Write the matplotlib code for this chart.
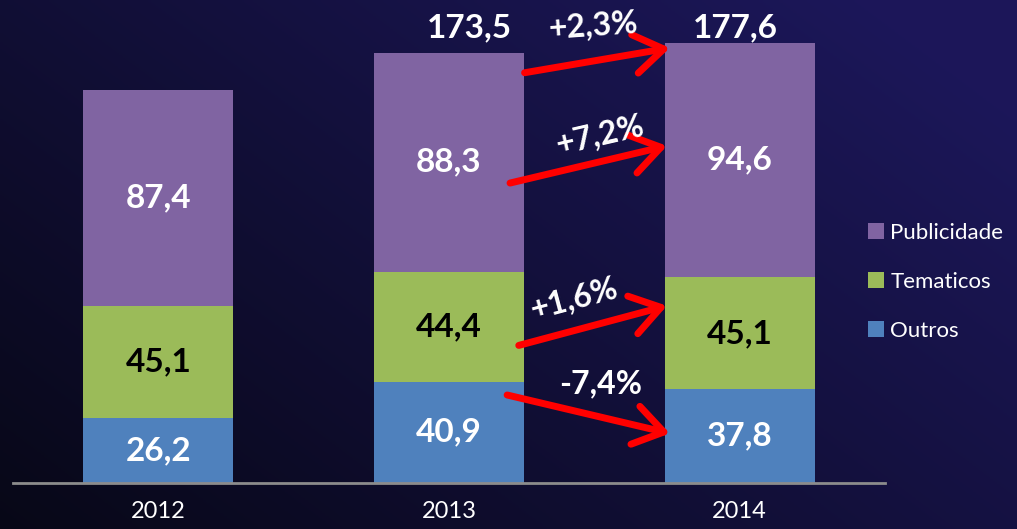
import numpy as np
import matplotlib
matplotlib.use("Agg")
import matplotlib.pyplot as plt

plt.rcParams['font.family'] = ['Lato', 'DejaVu Sans']

years = ["2012", "2013", "2014"]
outros = [26.2, 40.9, 37.8]
tematicos = [45.1, 44.4, 45.1]
publicidade = [87.4, 88.3, 94.6]
totals_lbl = {1: "173,5", 2: "177,6"}
# (label, start x, start y, end x, end y, text x, text y, rotation)
changes = [
    ("+2,3%", 1.26, 165.5, 1.76, 175.5, 1.495, 184.5, 4),
    ("+7,2%", 1.21, 121.0, 1.75, 136.0, 1.52, 140.5, 13),
    ("+1,6%", 1.24, 55.5, 1.75, 71.5, 1.43, 74.5, 15),
    ("-7,4%", 1.20, 35.5, 1.76, 20.0, 1.52, 40.0, 0),
]
colors = {"Publicidade": "#8064A2", "Tematicos": "#9BBB59", "Outros": "#4F81BD"}


def fmt(v):
    return f"{v:.1f}".replace(".", ",")


fig = plt.figure(figsize=(10.17, 5.29), dpi=100)

# background gradient
bg = fig.add_axes([0, 0, 1, 1], zorder=-10)
gx, gy = np.meshgrid(np.linspace(0, 1, 300), np.linspace(0, 1, 200))
t = np.clip(0.65 * gx + 0.45 * gy, 0, 1)
c0 = np.array([0.03, 0.03, 0.09])
c1 = np.array([0.11, 0.09, 0.35])
img = c0 + (c1 - c0) * t[..., None]
bg.imshow(img, origin="lower", aspect="auto", extent=[0, 1, 0, 1])
bg.axis("off")

ax = fig.add_axes([13 / 1017, 46 / 529, 872 / 1017, 471 / 529])
ax.patch.set_alpha(0)
x = np.arange(len(years))
w = 0.515
b1 = ax.bar(x, outros, w, color=colors["Outros"], label="Outros")
b2 = ax.bar(x, tematicos, w, bottom=outros, color=colors["Tematicos"], label="Tematicos")
bot3 = [a + b for a, b in zip(outros, tematicos)]
b3 = ax.bar(x, publicidade, w, bottom=bot3, color=colors["Publicidade"], label="Publicidade")

ax.set_xlim(-0.5, 2.5)
ax.set_ylim(0, 190)
for s in ["top", "right", "left"]:
    ax.spines[s].set_visible(False)
ax.spines["bottom"].set_color("#8c8c8c")
ax.spines["bottom"].set_linewidth(2)
ax.set_yticks([])
ax.set_xticks(x)
ax.set_xticklabels(years, color="white", fontsize=17)
ax.tick_params(axis="x", length=0, pad=13)

for i in x:
    ax.text(i, outros[i] / 2, fmt(outros[i]), ha="center", va="center",
            color="white", fontsize=24, fontweight="bold")
    ax.text(i, outros[i] + tematicos[i] / 2, fmt(tematicos[i]), ha="center", va="center",
            color="black", fontsize=24, fontweight="bold")
    ax.text(i, bot3[i] + publicidade[i] / 2, fmt(publicidade[i]), ha="center", va="center",
            color="white", fontsize=24, fontweight="bold")

ax.text(1.07, 183.5, totals_lbl[1], ha="center", va="center", color="white",
        fontsize=24, fontweight="bold", clip_on=False)
ax.text(1.985, 183.5, totals_lbl[2], ha="center", va="center", color="white",
        fontsize=24, fontweight="bold", clip_on=False)

for lbl, sx, sy, ex, ey, tx, ty, rot in changes:
    ax.annotate("", xy=(ex, ey), xytext=(sx, sy),
                arrowprops=dict(arrowstyle="->,head_length=0.75,head_width=0.5",
                                lw=5, color="#ff0000", mutation_scale=28,
                                shrinkA=0, shrinkB=0))
    ax.text(tx, ty, lbl, ha="center", va="center", color="white", fontsize=23,
            fontweight="bold", rotation=rot, rotation_mode="anchor", clip_on=False)

leg = ax.legend(handles=[b3, b2, b1], loc="center left", bbox_to_anchor=(0.98, 0.427),
                frameon=False, fontsize=16, labelcolor="white", handlelength=0.72,
                handleheight=0.72, handletextpad=0.3, labelspacing=1.3, borderpad=0,
                borderaxespad=0)

fig.savefig("out.png", dpi=100)
